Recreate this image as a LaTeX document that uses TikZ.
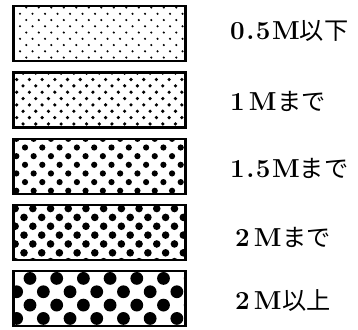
\documentclass[tikz,border=0pt]{standalone}
\usepackage{fontspec}
\newfontfamily\jp{Noto Sans CJK JP}[Scale=0.93]
\usetikzlibrary{positioning}

\tikzset{
  patbox/.style={minimum width=172pt,minimum height=55pt,inner sep=0pt,outer sep=0pt},
  boxline/.style={draw=black,line width=2.2pt},
  lbl/.style={anchor=west,inner sep=0pt,font=\fontsize{26}{26}\selectfont\bfseries}
}
\newcommand{\gp}{\kern1.5pt}
\newcommand{\jtext}[1]{{\jp\mdseries #1}}

\begin{document}
\begin{tikzpicture}[x=1pt,y=-1pt]
\useasboundingbox (0,0) rectangle (358,329);

% dot screens, finest to coarsest
\foreach \k/\pit/\rad/\ox/\oy in {1/12.5/1.2/6.5/7.5, 2/12.7/1.8/3.2/7, 3/17.3/3.1/11.5/8.8, 4/17.7/3.8/10.5/12.5, 5/26.7/6.4/16.5/7.3} {
  \node[patbox] (b\k) at (99.5,{33.8+(\k-1)*66.2}) {};
  \begin{scope}
    \clip (b\k.north west) rectangle (b\k.south east);
    \begin{scope}[shift={(b\k.north west)}]
      \foreach \i in {-1,...,14} \foreach \j in {-1,...,5}
        \fill (\ox+\i*\pit,\oy+\j*\pit) circle (\rad pt)
              (\ox+\i*\pit+\pit/2,\oy+\j*\pit+\pit/2) circle (\rad pt);
    \end{scope}
  \end{scope}
  \draw[boxline] (b\k.north west) rectangle (b\k.south east);
}

\node[lbl] (l1) at (230,31) {0\gp.\gp5\gp M\jtext{以下}};
\node[lbl] (l2) at (230,101) {1\kern4pt M\kern1pt\jtext{まで}};
\node[lbl] (l3) at (230,168) {1\gp.\gp5\gp M\jtext{まで}};
\node[lbl] (l4) at (235,237) {2\kern4pt M\kern1pt\jtext{まで}};
\node[lbl] (l5) at (235,301) {2\kern4pt M\kern1pt\jtext{以上}};
\end{tikzpicture}
\end{document}
